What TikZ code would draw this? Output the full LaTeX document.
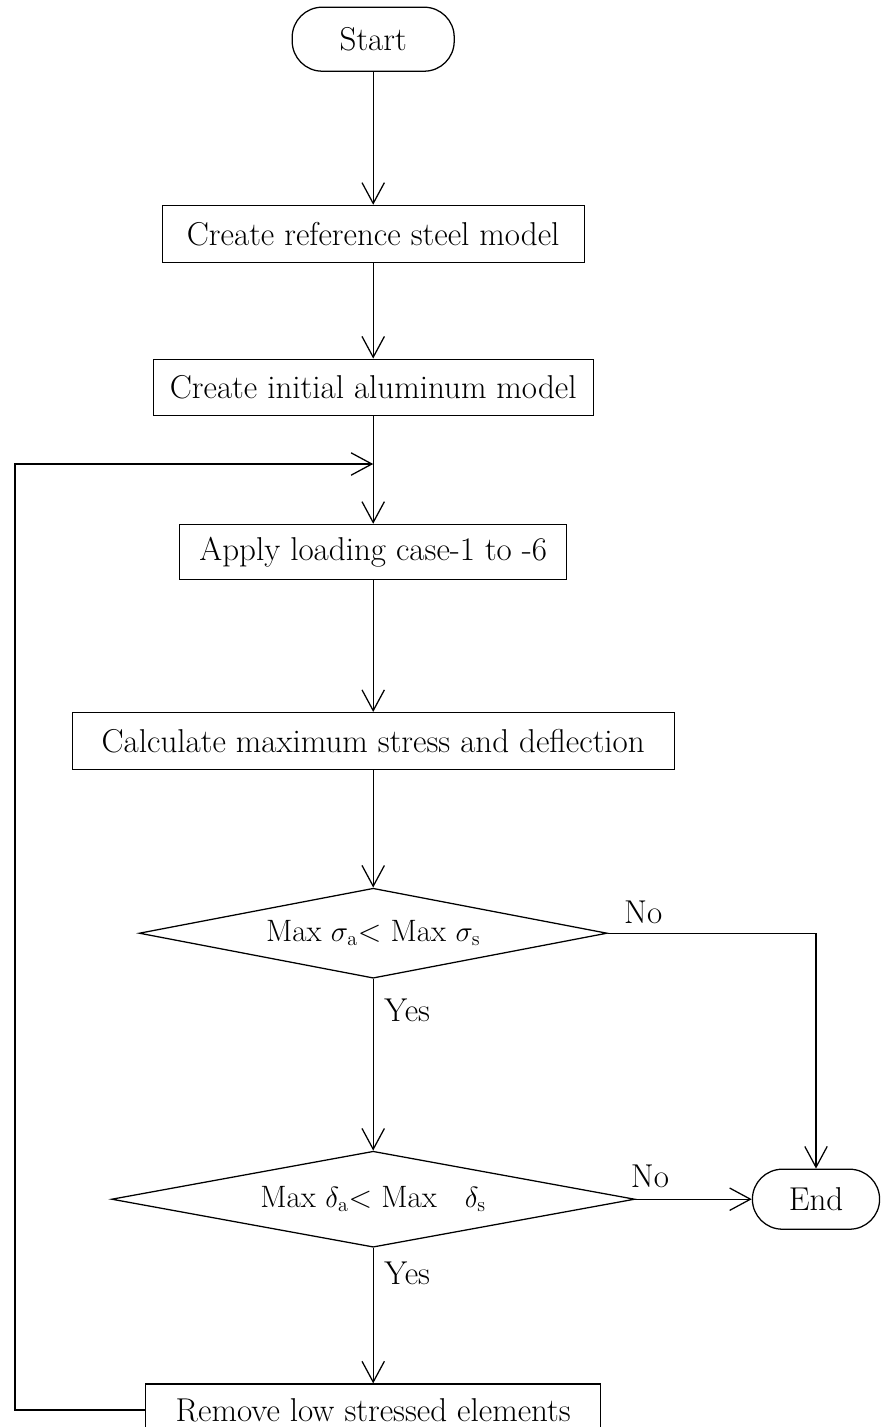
\documentclass[tikz,border=0pt]{standalone}
\usetikzlibrary{positioning,shapes.geometric,arrows.meta}

\begin{document}
\begin{tikzpicture}[line width=0.9pt,
  font=\fontsize{23.5}{28}\selectfont,
  box/.style={draw,rectangle,inner sep=0pt},
  term/.style={draw,rectangle,rounded corners=0.75cm,inner sep=0pt},
  dec/.style={draw,diamond,aspect=5,inner sep=0pt,font=\fontsize{22}{26}\selectfont},
  arr/.style={-{Straight Barb[length=0.52cm,width=0.56cm]}}]
        \useasboundingbox (0,0) rectangle (22.05,-35.675);

        \node[term,minimum width=4.05cm,minimum height=1.6cm] at (9.33,-0.98) (start) {Start};
        \node[box,minimum width=10.55cm,minimum height=1.43cm] at (9.33,-5.85) (steel) {Create reference steel model};
        \node[box,minimum width=11.0cm,minimum height=1.4cm] at (9.33,-9.68) (alum) {Create initial aluminum model};
        \node[box,minimum width=9.68cm,minimum height=1.38cm] at (9.33,-13.8) (apply) {Apply loading case-1 to -6};
        \node[box,minimum width=15.05cm,minimum height=1.43cm] at (9.33,-18.53) (calc) {Calculate maximum stress and deflection};
        \node[dec,minimum width=11.7cm,minimum height=2.25cm] at (9.33,-23.33) (dec1) {Max $\sigma_{\mathrm{a}}$< Max $\sigma_{\mathrm{s}}$};
        \node[dec,minimum width=13.08cm,minimum height=2.4cm] at (9.33,-29.98) (dec2) {Max $\delta_{\mathrm{a}}$< Max\hspace{0.6em} $\delta_{\mathrm{s}}$};
        \node[term,minimum width=3.18cm,minimum height=1.5cm] at (20.4,-29.98) (end) {End};
        \node[box,minimum width=11.38cm,minimum height=1.3cm] at (9.33,-35.25) (remove) {Remove low stressed elements};

        \node at (16.08,-22.8) (no1) {No};
        \node at (10.18,-25.25) (yes1) {Yes};
        \node at (16.25,-29.4) (no2) {No};
        \node at (10.18,-31.83) (yes2) {Yes};

        \coordinate (join) at (9.33,-11.6);
        \coordinate (back) at (0.375,-11.6);

        \draw[arr] (start) -- (steel);
        \draw[arr] (steel) -- (alum);
        \draw (alum) -- (join);
        \draw[arr] (join) -- (apply);
        \draw[arr] (apply) -- (calc);
        \draw[arr] (calc) -- (dec1);
        \draw[arr] (dec1) -- (dec2);
        \draw[arr] (dec2) -- (remove);
        \draw[arr] (dec1.east) -| (end.north);
        \draw[arr] (dec2.east) -- (end.west);
        \draw[arr] (remove.west) -| (back) -- (join);
      \end{tikzpicture}
\end{document}
